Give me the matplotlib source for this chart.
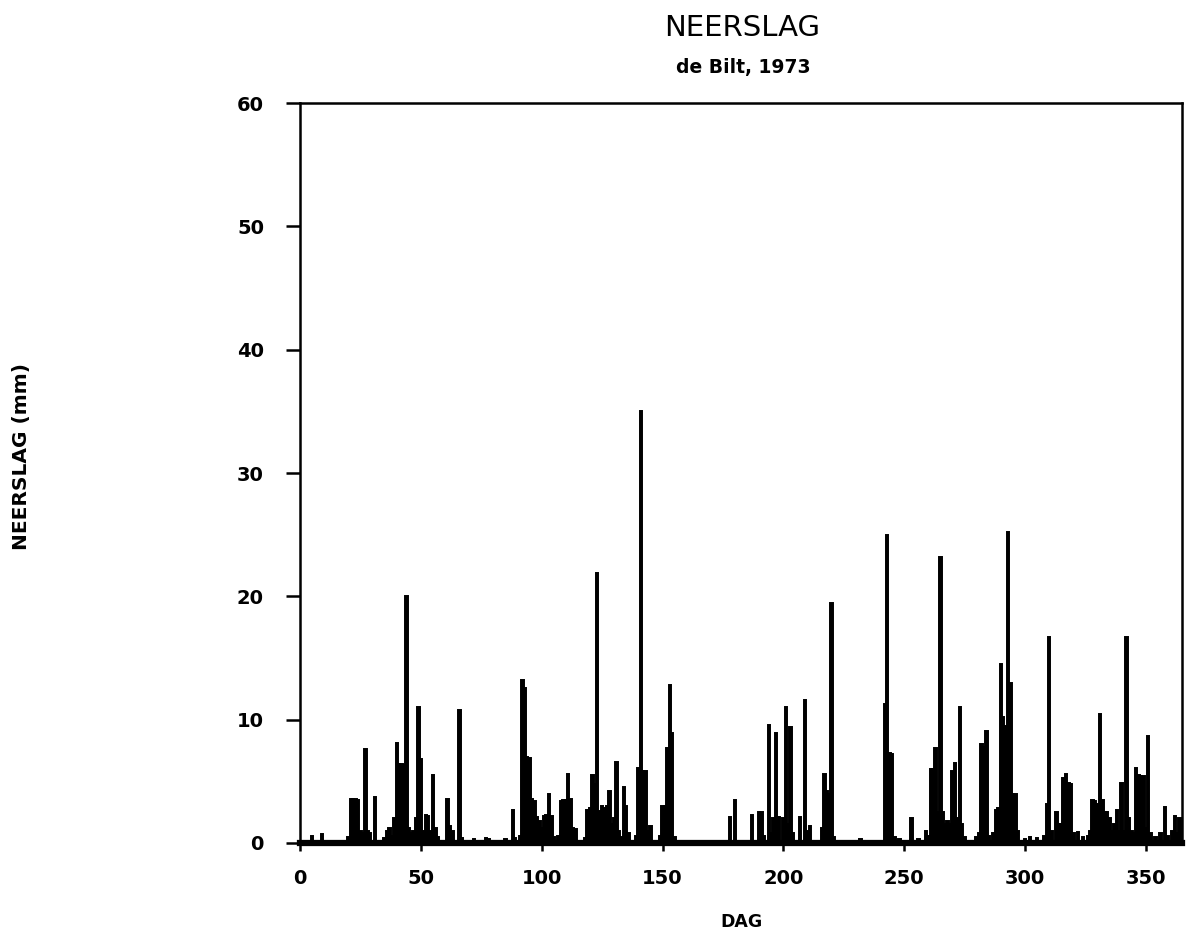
"""
Neerslag de Bilt 1973 - dagwaarden als staafjes.
"""
import matplotlib
matplotlib.use('Agg')
import matplotlib.pyplot as plt

rain_days = [
    5, 9, 15, 20, 21, 22, 23, 24, 25, 26, 27, 28, 29, 31, 35, 36, 37, 38, 39,
    40, 41, 42, 43, 44, 45, 46, 47, 48, 49, 50, 51, 52, 53, 54, 55, 56, 57,
    61, 62, 63, 66, 67, 72, 77, 78, 85, 88, 89, 91, 92, 93, 94, 95, 96, 97,
    98, 99, 100, 101, 102, 103, 104, 105, 107, 108, 109, 110, 111, 112, 113,
    114, 118, 119, 120, 121, 122, 123, 124, 125, 126, 127, 128, 129, 130, 131,
    132, 133, 134, 135, 136, 139, 140, 141, 142, 143, 144, 145, 149, 150, 151,
    152, 153, 154, 155, 178, 180, 187, 190, 191, 192, 194, 195, 196, 197, 198,
    200, 201, 202, 203, 204, 207, 209, 210, 211, 216, 217, 218, 219, 220, 221,
    232, 242, 243, 244, 245, 246, 248, 253, 256, 259, 260, 261, 262, 263, 264,
    265, 266, 267, 268, 269, 270, 271, 272, 273, 274, 275, 280, 281, 282, 283,
    284, 285, 287, 288, 289, 290, 291, 292, 293, 294, 295, 296, 297, 300, 302,
    305, 308, 309, 310, 311, 313, 314, 315, 316, 317, 318, 319, 320, 322, 324,
    326, 327, 328, 329, 330, 331, 332, 333, 334, 335, 336, 337, 338, 339, 340,
    341, 342, 343, 344, 345, 346, 347, 348, 349, 350, 351, 352, 354, 356, 358,
    359, 361, 362, 363, 364,
]
rain_mm = [
    0.6, 0.7, 0.2, 0.5, 3.6, 3.6, 3.6, 3.5, 1.0, 0.8, 7.6, 1.0, 0.8, 3.7, 0.4, 1.0, 1.2, 0.6, 2.0,
    8.1, 6.4, 6.4, 6.3, 20.0, 1.2, 0.8, 1.0, 2.0, 11.0, 6.8, 1.0, 2.3, 2.2, 1.0, 5.5, 1.2, 0.5,
    3.6, 1.4, 1.0, 10.8, 0.4, 0.3, 0.4, 0.3, 0.3, 2.7, 0.4, 0.6, 13.2, 12.6, 7.0, 6.9, 3.6, 3.4,
    2.1, 1.8, 1.2, 2.2, 2.3, 4.0, 2.2, 0.5, 0.6, 3.4, 3.5, 3.5, 5.6, 3.6, 1.2,
    1.1, 0.4, 2.7, 2.8, 5.5, 4.8, 21.9, 2.6, 3.0, 2.8, 3.0, 4.2, 1.5, 2.0, 6.6,
    1.0, 0.5, 4.5, 3.0, 0.8, 0.6, 6.1, 35.0, 5.8, 5.8, 1.0, 1.4, 0.6, 3.0, 3.0,
    7.7, 12.8, 8.9, 0.5, 2.1, 3.5, 2.3, 2.5, 2.5, 0.6, 9.6, 0.8, 2.0, 8.9, 2.1,
    2.0, 11.0, 1.5, 9.4, 0.8, 2.1, 11.6, 1.0, 1.4, 1.2, 5.6, 4.2, 4.0, 19.5, 0.5,
    0.3, 11.3, 25.0, 7.3, 7.2, 0.5, 0.3, 2.0, 0.3, 1.0, 0.6, 6.0, 6.0, 7.7, 2.5,
    23.2, 2.5, 1.5, 1.8, 1.5, 5.8, 6.5, 2.0, 11.0, 1.5, 0.5, 0.5, 0.8, 8.0, 7.8,
    9.1, 0.6, 0.8, 2.7, 2.8, 14.5, 10.2, 9.5, 25.2, 13.0, 4.0, 4.0, 1.0, 0.3, 0.5,
    0.4, 0.6, 3.2, 16.7, 1.0, 2.5, 1.5, 1.5, 5.3, 5.6, 4.9, 4.8, 0.8, 0.9, 0.5,
    0.6, 1.0, 3.5, 3.4, 3.2, 10.5, 3.5, 2.5, 2.5, 2.0, 1.0, 1.5, 2.7, 1.0, 4.9,
    1.0, 16.7, 2.0, 1.0, 0.8, 6.1, 5.5, 5.4, 5.4, 1.2, 8.7, 0.8, 0.5, 0.8, 2.9,
    0.6, 1.0, 2.2, 0.8, 2.0,
]

x_ticks = [0, 50, 100, 150, 200, 250, 300, 350]
y_ticks = [0, 10, 20, 30, 40, 50, 60]

plt.rcParams['font.family'] = ['DejaVu Sans']

fig = plt.figure(figsize=(11.86, 9.35), dpi=100)
ax = fig.add_axes([0.2530, 0.0984, 0.7437, 0.7914])

ax.bar(rain_days, rain_mm, width=1.0, color='black', edgecolor='black',
       linewidth=1.4, align='center')

ax.set_xlim(0, 365)
ax.set_ylim(0, 60)
ax.set_xticks(x_ticks)
ax.set_yticks(y_ticks)

for side in ['left', 'right', 'top']:
    ax.spines[side].set_linewidth(1.8)
ax.spines['bottom'].set_linewidth(4.5)

ax.tick_params(axis='x', direction='out', length=6, width=1.8, pad=13,
               labelsize=14)
ax.tick_params(axis='y', direction='out', length=10, width=1.8, pad=16,
               labelsize=14)
for lbl in ax.get_xticklabels() + ax.get_yticklabels():
    lbl.set_fontweight('bold')

# titels en aslabels
fig.text(742 / 1186, 1 - 28 / 935, 'NEERSLAG', fontsize=21,
         ha='center', va='center')
fig.text(743 / 1186, 1 - 68 / 935, 'de Bilt, 1973', fontsize=13.5,
         fontweight='bold', ha='center', va='center')
fig.text(22 / 1186, 1 - 456 / 935, 'NEERSLAG (mm)', fontsize=14.5,
         fontweight='bold', rotation=90, ha='center', va='center')
fig.text(742 / 1186, 1 - 922 / 935, 'DAG', fontsize=12.5,
         fontweight='bold', ha='center', va='center')

plt.savefig('out.png', dpi=100)
plt.close()
